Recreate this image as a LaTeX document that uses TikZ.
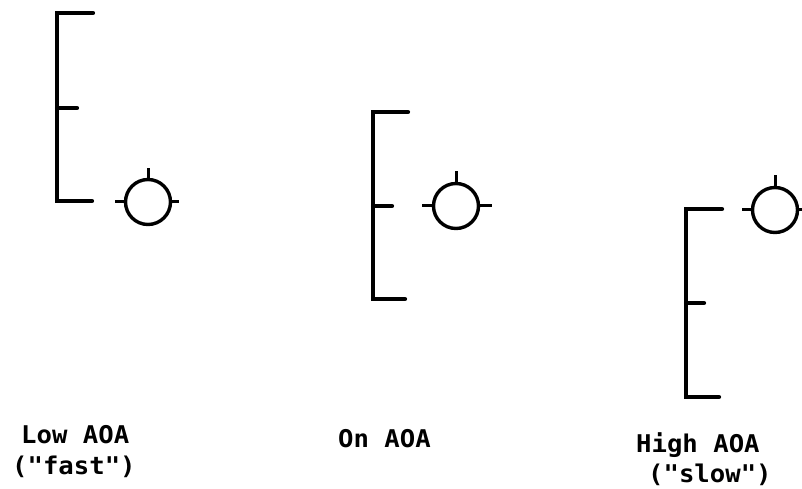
\documentclass[tikz,border=0pt]{standalone}
\usepackage{fontspec}
\newfontfamily\plotfont[FakeStretch=1.05]{DejaVu Sans Mono}
\begin{document}
\begin{tikzpicture}[x=1bp,y=-1bp,
  brk/.style={line width=4.2bp,line cap=round,line join=miter},
  ring/.style={circle,draw,line width=3.4bp,minimum size=45bp,inner sep=0pt,outer sep=0pt},
  tk/.style={line width=3bp,line cap=butt},
  lbl/.style={font=\plotfont\bfseries\fontsize{24.5}{30}\selectfont,anchor=base west,inner sep=0pt,align=left}]
\useasboundingbox (0,0) rectangle (802,489);
% panel 1 : Low AOA
\coordinate (b1t) at (93,13);
\coordinate (b1m) at (77,108);
\coordinate (b1b) at (92,201);
\draw[brk] (b1t) -- (57,13) -- (57,201) -- (b1b);
\draw[brk] (57,108) -- (b1m);
\node[ring] (c1) at (148,202) {};
\draw[tk] (c1.north) -- ++(0,-11);
\draw[tk] (c1.west) -- ++(-11,0);
\draw[tk] (c1.east) -- ++(8,0);
% panel 2 : On AOA
\coordinate (b2t) at (408,112);
\coordinate (b2m) at (392,206);
\coordinate (b2b) at (405,299);
\draw[brk] (b2t) -- (373,112) -- (373,299) -- (b2b);
\draw[brk] (373,206) -- (b2m);
\node[ring] (c2) at (456,206) {};
\draw[tk] (c2.north) -- ++(0,-12);
\draw[tk] (c2.west) -- ++(-12,0);
\draw[tk] (c2.east) -- ++(13,0);
% panel 3 : High AOA
\coordinate (b3t) at (722,209);
\coordinate (b3m) at (704,303);
\coordinate (b3b) at (719,397);
\draw[brk] (b3t) -- (686,209) -- (686,397) -- (b3b);
\draw[brk] (686,303) -- (b3m);
\node[ring] (c3) at (775,210) {};
\draw[tk] (c3.north) -- ++(0,-12);
\draw[tk] (c3.west) -- ++(-11,0);
\draw[tk] (c3.east) -- ++(6,0);
% labels
\node[lbl] (l1a) at (21,443) {Low AOA};
\node[lbl] (l1b) at (12,474) {("fast")};
\node[lbl] (l2) at (338,447) {On AOA};
\node[lbl] (l3a) at (636,452) {High AOA};
\node[lbl] (l3b) at (648,482) {("slow")};
\end{tikzpicture}
\end{document}
